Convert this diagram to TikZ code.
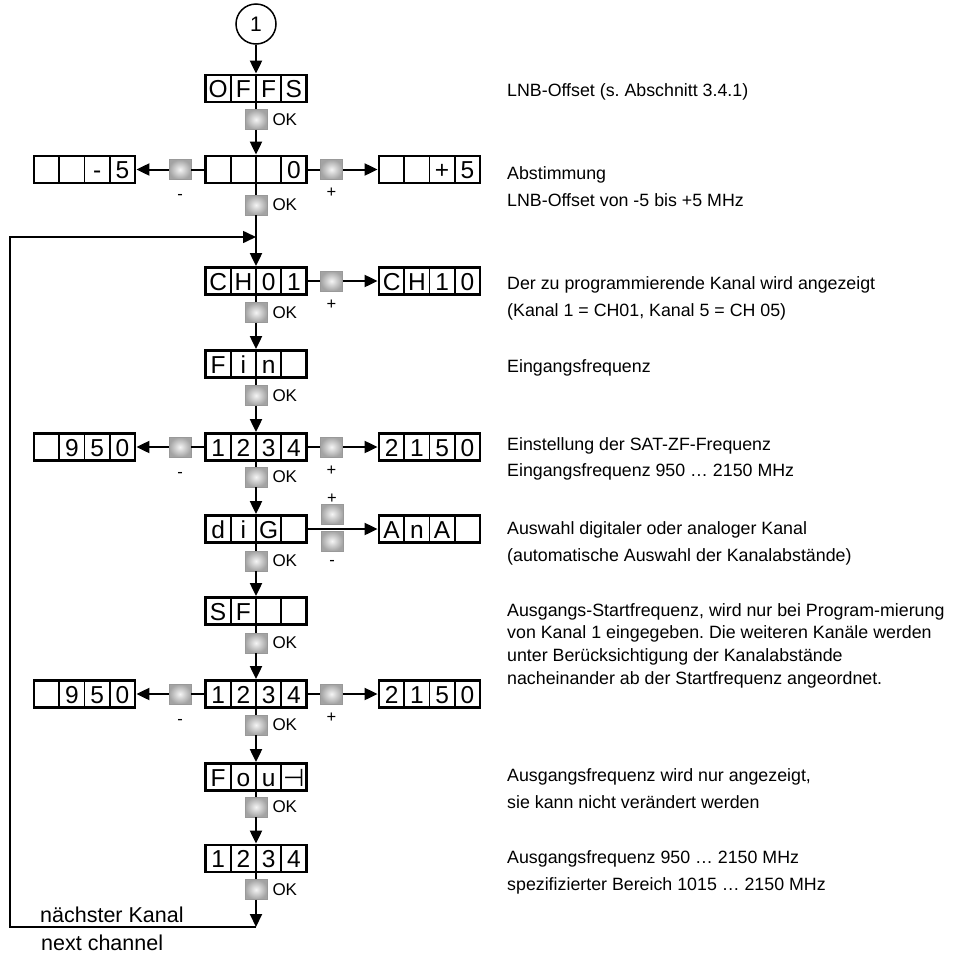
\documentclass[tikz,border=0pt]{standalone}
\usepackage{fontspec}
\setmainfont{Liberation Sans}
\newfontfamily\dejavu{DejaVu Sans}
\usetikzlibrary{arrows.meta}
\frenchspacing
\tikzset{
  conn/.style={line width=2pt},
  arr/.style={conn,-{Triangle[length=13pt,width=12pt]}},
  fbline/.style={line width=1.6pt,-{Triangle[length=13pt,width=12pt]}},
  dispbox/.style={draw,line width=2.8pt,minimum width=101pt,minimum height=27pt,inner sep=0pt},
  divider/.style={line width=1.8pt},
  celltxt/.style={font=\fontsize{24.5}{28}\selectfont,anchor=base,inner sep=0pt},
  btn/.style={rectangle,minimum width=22pt,minimum height=20pt,inner sep=0pt,
    shading=radial,inner color=gray!8,outer color=gray!72,draw=gray!80,line width=0.6pt},
  okbtn/.style={btn,label={[font=\fontsize{17}{20}\selectfont,inner sep=0pt,label distance=5pt]east:OK}},
  pmtxt/.style={font=\fontsize{16.5}{19}\selectfont,inner sep=0pt,anchor=base},
  desc/.style={font=\fontsize{17.8}{22}\selectfont,anchor=base west,inner sep=0pt},
  bigtxt/.style={font=\fontsize{21.5}{26}\selectfont,anchor=base west,inner sep=0pt},
}
\newcommand\dispbx[7]{%
  \node[dispbox] (#1) at (#2,#3) {};
  \draw[divider] ({#2-25.25},{#3-13.5}) -- ({#2-25.25},{#3+13.5});
  \draw[divider] ({#2},{#3-13.5}) -- ({#2},{#3+13.5});
  \draw[divider] ({#2+25.25},{#3-13.5}) -- ({#2+25.25},{#3+13.5});
  \node[celltxt] at ({#2-37.9},{#3+9}) {#4};
  \node[celltxt] at ({#2-12.6},{#3+9}) {#5};
  \node[celltxt] at ({#2+12.6},{#3+9}) {#6};
  \node[celltxt] at ({#2+37.9},{#3+9}) {#7};
}
\begin{document}
\begin{tikzpicture}[x=1pt,y=-1pt]
\fill[white] (0,0) rectangle (962,956);
\useasboundingbox (0,0) rectangle (962,956);

% start circle
\node[circle,draw,line width=1.5pt,minimum size=40pt,inner sep=0pt,font=\fontsize{21}{25}\selectfont] (start) at (256,24) {1};

% main column displays
\dispbx{d1}{256}{88.5}{O}{F}{F}{S}
\dispbx{d2}{256}{169.5}{}{}{}{0}
\dispbx{d3}{256}{281}{C}{H}{0}{1}
\dispbx{d4}{256}{364}{F}{i}{n}{}
\dispbx{d5}{256}{447}{1}{2}{3}{4}
\dispbx{d6}{256}{529}{d}{i}{G}{}
\dispbx{d7}{256}{611}{S}{F}{}{}
\dispbx{d8}{256}{694}{1}{2}{3}{4}
\dispbx{d9}{256}{777}{F}{o}{u}{\dejavu ⊣}
\dispbx{d10}{256}{858.5}{1}{2}{3}{4}

% side displays
\dispbx{l2}{84.5}{169.5}{}{}{-}{5}
\dispbx{r2}{429.5}{169.5}{}{}{+}{5}
\dispbx{r3}{429.5}{281}{C}{H}{1}{0}
\dispbx{l5}{84.5}{447}{}{9}{5}{0}
\dispbx{r5}{429.5}{447}{2}{1}{5}{0}
\dispbx{r6}{429.5}{529}{A}{n}{A}{}
\dispbx{l8}{84.5}{694}{}{9}{5}{0}
\dispbx{r8}{429.5}{694}{2}{1}{5}{0}

% OK buttons
\node[okbtn] (ok1) at (256,119.5) {};
\node[okbtn] (ok2) at (256,205) {};
\node[okbtn] (ok3) at (256,312.5) {};
\node[okbtn] (ok4) at (256,395.5) {};
\node[okbtn] (ok5) at (256,477) {};
\node[okbtn] (ok6) at (256,561) {};
\node[okbtn] (ok7) at (256,643) {};
\node[okbtn] (ok8) at (256,725) {};
\node[okbtn] (ok9) at (256,807) {};
\node[okbtn] (ok10) at (256,889.5) {};

% side buttons
\foreach \r/\y in {2/169.5,5/447,8/694}{
  \node[btn] (mb\r) at (180,\y) {};
  \node[btn] (pb\r) at (331.5,\y) {};
  \node[pmtxt] at (180,{\y+30}) {-};
  \node[pmtxt] at (331.5,{\y+28}) {+};
}
\node[btn] (pb3) at (331.5,281) {};
\node[pmtxt] at (331.5,309) {+};
\node[btn] (dgp) at (332,514) {};
\node[btn] (dgm) at (332,541) {};
\node[pmtxt] at (332,503) {+};
\node[pmtxt] at (332,565) {-};

% main chain
\draw[arr] (start) -- (d1);
\foreach \a/\b/\c in {d1/ok1/d2,d2/ok2/d3,d3/ok3/d4,d4/ok4/d5,d5/ok5/d6,d6/ok6/d7,d7/ok7/d8,d8/ok8/d9,d9/ok9/d10}{
  \draw[conn] (\a) -- (\b);
  \draw[arr] (\b) -- (\c);
}
\draw[conn] (d10) -- (ok10);

% side chains
\foreach \r in {2,5,8}{
  \draw[conn] (d\r) -- (mb\r);
  \draw[arr] (mb\r) -- (l\r);
  \draw[conn] (d\r) -- (pb\r);
  \draw[arr] (pb\r) -- (r\r);
}
\draw[conn] (d3) -- (pb3);
\draw[arr] (pb3) -- (r3);
\draw[arr] (d6) -- (r6);

% feedback loop
\coordinate (fbj) at (256,237);
\coordinate (fbtl) at (10,237);
\coordinate (fbbl) at (10,927);
\coordinate (fbbr) at (256,927);
\draw[arr] (ok10) -- (fbbr);
\draw[fbline] (fbbr) -- (fbbl) -- (fbtl) -- (fbj);
\node[bigtxt] (nk) at (40,922.5) {nächster Kanal};
\node[bigtxt] (nc) at (41,950) {next channel};

% descriptions
\node[desc] at (507,96) {LNB-Offset (s. Abschnitt 3.4.1)};
\node[desc] at (507,179.5) {Abstimmung};
\node[desc] at (507,206.5) {LNB-Offset von -5 bis +5 MHz};
\node[desc] at (507,289) {Der zu programmierende Kanal wird angezeigt};
\node[desc] at (507,316) {(Kanal 1 = CH01, Kanal 5 = CH 05)};
\node[desc] at (507,372) {Eingangsfrequenz};
\node[desc] at (507,450) {Einstellung der SAT-ZF-Frequenz};
\node[desc] at (507,476.5) {Eingangsfrequenz 950 … 2150 MHz};
\node[desc] at (507,534.5) {Auswahl digitaler oder analoger Kanal};
\node[desc] at (507,561.5) {(automatische Auswahl der Kanalabstände)};
\node[desc] at (507,616.5) {Ausgangs-Startfrequenz, wird nur bei Program-mierung};
\node[desc] at (507,638.5) {von Kanal 1 eingegeben. Die weiteren Kanäle werden};
\node[desc] at (507,661) {unter Berücksichtigung der Kanalabstände};
\node[desc] at (507,684) {nacheinander ab der Startfrequenz angeordnet.};
\node[desc] at (507,781.5) {Ausgangsfrequenz wird nur angezeigt,};
\node[desc] at (507,808.5) {sie kann nicht verändert werden};
\node[desc] at (507,863.5) {Ausgangsfrequenz 950 … 2150 MHz};
\node[desc] at (507,890.5) {spezifizierter Bereich 1015 … 2150 MHz};
\end{tikzpicture}
\end{document}
